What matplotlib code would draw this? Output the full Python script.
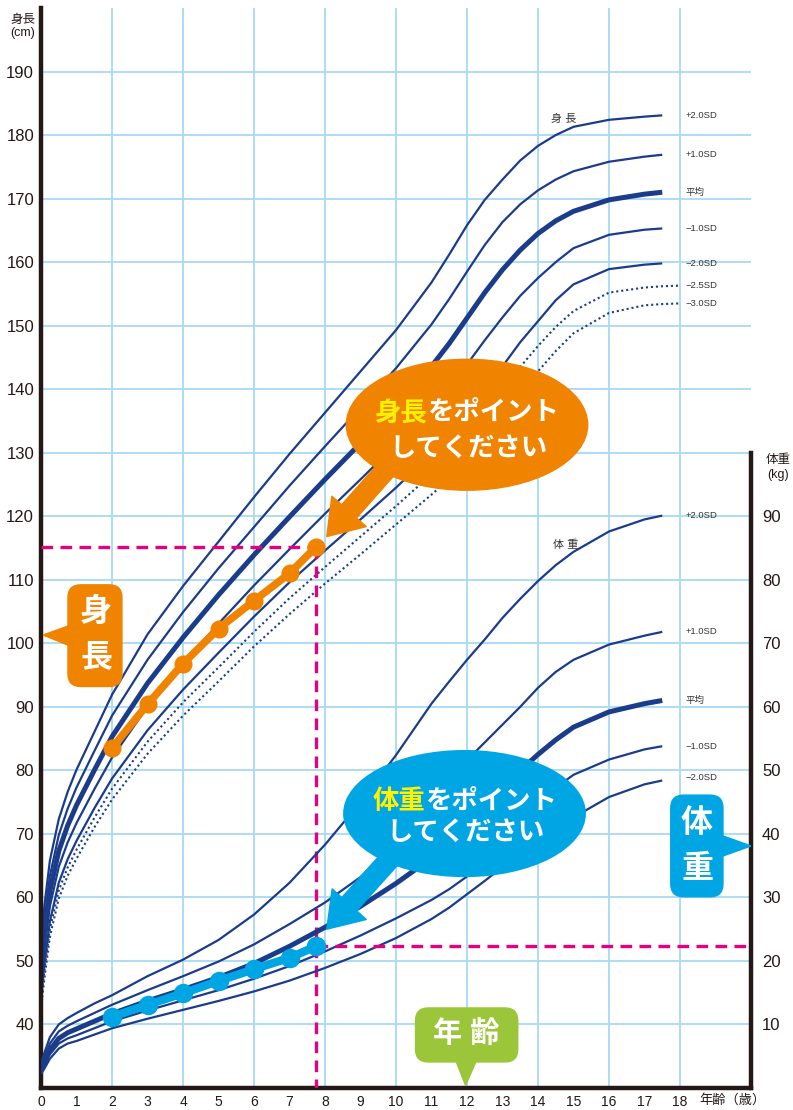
import matplotlib
matplotlib.use("Agg")
import matplotlib.pyplot as plt
from matplotlib.patches import Ellipse, FancyBboxPatch, Polygon

plt.rcParams['font.family'] = ['Liberation Sans', 'Noto Sans CJK JP', 'DejaVu Sans']

# --- standard curves (boys) ---
ages = [0, 0.1, 0.25, 0.5, 0.75, 1, 1.5, 2, 3, 4, 5, 6, 7, 8, 9, 10, 11, 11.5, 12, 12.5, 13, 13.5, 14, 14.5, 15, 16, 17, 17.5]
ages_dot = ages + [18]

h_p2 = [53.2, 58.9, 65.8, 72.3, 76.6, 80.1, 86.0, 91.9, 101.4, 109.0, 116.0, 123.0, 129.8, 136.3, 142.8, 149.3, 156.8, 161.2, 165.8, 169.8, 173.0, 176.0, 178.3, 180.0, 181.3, 182.4, 182.9, 183.1]
h_p1 = [51.1, 56.6, 63.4, 69.8, 73.95, 77.3, 83.0, 88.6, 97.4, 104.9, 111.8, 118.3, 124.8, 131.0, 137.1, 143.3, 150.2, 154.2, 158.5, 162.7, 166.3, 169.1, 171.3, 173.0, 174.3, 175.8, 176.6, 176.9]
h_mean = [49.0, 54.3, 61.0, 67.3, 71.3, 74.5, 80.0, 85.3, 93.7, 100.9, 107.6, 113.9, 119.9, 125.8, 131.5, 137.3, 143.6, 147.2, 151.2, 155.2, 158.8, 161.9, 164.5, 166.5, 168.0, 169.8, 170.7, 171.0]
h_m1 = [46.9, 52.0, 58.6, 64.8, 68.65, 71.7, 77.0, 82.0, 90.0, 96.8, 103.1, 109.1, 114.8, 120.4, 125.8, 131.3, 137.0, 140.2, 143.9, 147.7, 151.3, 154.7, 157.5, 160.0, 162.2, 164.3, 165.1, 165.3]
h_m2 = [44.8, 49.7, 56.2, 62.3, 66.0, 68.9, 74.0, 78.7, 86.3, 92.7, 98.5, 104.2, 109.6, 114.6, 119.5, 124.5, 129.8, 132.7, 136.1, 139.8, 143.6, 147.4, 150.7, 154.0, 156.5, 158.9, 159.6, 159.8]
h_m25 = [43.8, 48.6, 55.0, 61.1, 64.7, 67.5, 72.5, 77.1, 84.5, 90.7, 96.2, 101.8, 107.1, 112.0, 116.8, 121.6, 126.6, 129.3, 132.6, 136.1, 139.8, 143.5, 146.8, 149.8, 152.3, 155.2, 156.0, 156.2, 156.3]
h_m3 = [42.7, 47.4, 53.8, 59.8, 63.4, 66.1, 71.0, 75.4, 82.6, 88.6, 94.0, 99.5, 104.6, 109.4, 114.0, 118.7, 123.4, 125.9, 129.1, 132.5, 136.1, 139.8, 142.8, 146.0, 148.8, 152.0, 153.2, 153.4, 153.5]

w_p2 = [3.9, 5.6, 8.0, 10.0, 11.0, 11.8, 13.3, 14.6, 17.6, 20.2, 23.3, 27.3, 32.3, 38.3, 45.0, 52.4, 60.5, 64.0, 67.4, 70.6, 74.0, 77.0, 79.8, 82.3, 84.4, 87.6, 89.5, 90.1]
w_p1 = [3.45, 4.9, 7.0, 8.9, 9.8, 10.5, 11.8, 13.1, 15.4, 17.6, 19.9, 22.6, 25.8, 29.2, 33.2, 38.6, 45.0, 48.3, 51.6, 54.4, 57.2, 60.0, 63.0, 65.5, 67.4, 69.8, 71.2, 71.8]
w_mean = [3.0, 4.2, 6.0, 7.8, 8.7, 9.3, 10.5, 11.7, 13.7, 15.5, 17.4, 19.6, 22.3, 25.3, 28.6, 32.2, 36.2, 38.5, 41.0, 44.0, 47.2, 50.0, 52.5, 54.8, 56.8, 59.2, 60.5, 61.0]
w_m1 = [2.6, 3.6, 5.3, 7.0, 7.8, 8.3, 9.4, 10.5, 12.2, 13.8, 15.4, 17.2, 19.2, 21.5, 24.0, 26.7, 29.6, 31.3, 33.3, 35.8, 38.5, 41.5, 44.5, 47.3, 49.3, 51.7, 53.3, 53.8]
w_m2 = [2.2, 3.1, 4.6, 6.2, 7.0, 7.4, 8.4, 9.4, 10.9, 12.3, 13.7, 15.2, 16.9, 18.9, 21.1, 23.6, 26.6, 28.4, 30.5, 32.6, 34.8, 37.0, 39.0, 40.6, 42.6, 45.8, 47.8, 48.4]

# --- the child's measurements ---
child_age = [2, 3, 4, 5, 6, 7, 7.75]
child_height = [83.5, 90.4, 96.8, 102.3, 106.7, 111.0, 115.2]
child_weight = [11.2, 13.1, 14.9, 16.85, 18.7, 20.5, 22.3]

NAVY = '#1a3c8a'
GRID = '#a8daf3'
ORANGE = '#f08300'
BLUE = '#00a5e3'
GREEN = '#9cc63a'
PINK = '#e4007f'
YELLOW = '#fff100'
INK = '#231815'

fig = plt.figure(figsize=(7.93, 11.10), dpi=100)
ax = fig.add_axes([41/793, 22/1110, 710/793, 1080/1110])
ax.set_xlim(0, 20)
ax.set_ylim(30, 200)

for x in range(2, 20, 2):
    ax.axvline(x, color=GRID, lw=1.3, zorder=0)
for y in range(40, 200, 10):
    ax.axhline(y, color=GRID, lw=1.3, zorder=0)

ax.set_xticks(range(0, 19))
ax.set_yticks(range(40, 200, 10))
ax.tick_params(axis='both', length=0, colors=INK)
ax.tick_params(axis='x', labelsize=10, pad=5)
ax.tick_params(axis='y', labelsize=12, pad=5)
for s in ['top', 'right']:
    ax.spines[s].set_visible(False)
for s in ['left', 'bottom']:
    ax.spines[s].set_linewidth(3.2)
    ax.spines[s].set_color(INK)

ax2 = ax.twinx()
ax2.set_ylim(0, 170)
ax2.set_yticks(range(10, 100, 10))
ax2.tick_params(axis='y', length=0, labelsize=12, pad=8, colors=INK)
for s in ['top', 'left', 'bottom']:
    ax2.spines[s].set_visible(False)
ax2.spines['right'].set_linewidth(3.2)
ax2.spines['right'].set_color(INK)
ax2.spines['right'].set_bounds(0, 100)

# height curves
for vals, lw in [(h_p2, 1.6), (h_p1, 1.6), (h_mean, 3.6), (h_m1, 1.6), (h_m2, 1.6)]:
    ax.plot(ages, vals, color=NAVY, lw=lw, solid_capstyle='butt', solid_joinstyle='round', zorder=2)
for vals in [h_m25, h_m3]:
    ax.plot(ages_dot, vals, color=NAVY, lw=1.5, ls=(0, (1, 1.4)), zorder=2)

# weight curves
for vals, lw in [(w_p2, 1.6), (w_p1, 1.6), (w_mean, 3.6), (w_m1, 1.6), (w_m2, 1.6)]:
    ax2.plot(ages, vals, color=NAVY, lw=lw, solid_capstyle='butt', solid_joinstyle='round', zorder=2)

# curve labels
lab_x = 18.16
h_labels = ['+2.0SD', '+1.0SD', '平均', '−1.0SD', '−2.0SD', '−2.5SD', '−3.0SD']
h_ends = [h_p2[-1], h_p1[-1], h_mean[-1], h_m1[-1], h_m2[-1], h_m25[-1], h_m3[-1]]
for t, y in zip(h_labels, h_ends):
    ax.text(lab_x, y, t, fontsize=6.8, color='#333333', va='center', ha='left')
w_labels = ['+2.0SD', '+1.0SD', '平均', '−1.0SD', '−2.0SD']
w_ends = [w_p2[-1], w_p1[-1], w_mean[-1], w_m1[-1], w_m2[-1] + 0.4]
for t, y in zip(w_labels, w_ends):
    ax2.text(lab_x, y, t, fontsize=6.8, color='#333333', va='center', ha='left')
ax.text(14.73, 182.6, '身 長', fontsize=8, color='#333333', ha='center', va='center')
ax2.text(14.78, 85.5, '体 重', fontsize=8, color='#333333', ha='center', va='center')

# guide lines
ax.plot([0, child_age[-1]], [child_height[-1]] * 2, color=PINK, lw=2.4, ls=(0, (3.5, 2.2)), zorder=3)
ax.plot([child_age[-1]] * 2, [child_height[-1], 30], color=PINK, lw=2.4, ls=(0, (3.5, 2.2)), zorder=3)
ax2.plot([child_age[-1], 20], [child_weight[-1]] * 2, color=PINK, lw=2.4, ls=(0, (3.5, 2.2)), zorder=3)

# child series
ax.plot(child_age, child_height, color=ORANGE, lw=5.5, marker='o', ms=12, zorder=4)
ax2.plot(child_age, child_weight, color=BLUE, lw=6, marker='o', ms=13, zorder=4)

# axis titles
fig.text(23/793, 1 - 20/1110, '身長', fontsize=9, ha='center', va='center', color=INK)
fig.text(23/793, 1 - 33/1110, '(cm)', fontsize=9, ha='center', va='center', color=INK)
fig.text(778/793, 1 - 460/1110, '体重', fontsize=9, ha='center', va='center', color=INK)
fig.text(778/793, 1 - 475/1110, '(kg)', fontsize=9, ha='center', va='center', color=INK)
fig.text(699/793, 1 - 1100/1110, '年齢（歳）', fontsize=9.5, ha='left', va='center', color=INK)

# call-outs (drawn on top axes, positioned in height-axis units)
T = ax.transData
ASPECT = (710 / 20) / (1080 / 170)

ax2.annotate('', xy=(8.05, 116.8), xytext=(10.3, 131.0), xycoords=T, textcoords=T,
             arrowprops=dict(arrowstyle='simple,head_length=1.1,head_width=1.5,tail_width=0.65',
                             mutation_scale=22, color=ORANGE, shrinkA=0, shrinkB=0), zorder=5)
ax2.add_patch(Ellipse((12.0, 134.4), 6.8, 20.6, transform=T, color=ORANGE, zorder=6))
ax2.text(10.88, 136.3, '身長', transform=T, fontsize=19, fontweight='bold', color=YELLOW,
         ha='right', va='center', zorder=7)
ax2.text(10.88, 136.3, 'をポイント', transform=T, fontsize=19, fontweight='bold', color='white',
         ha='left', va='center', zorder=7)
ax2.text(12.05, 130.6, 'してください', transform=T, fontsize=19, fontweight='bold', color='white',
         ha='center', va='center', zorder=7)

ax2.annotate('', xy=(8.05, 55.0), xytext=(10.3, 69.0), xycoords=T, textcoords=T,
             arrowprops=dict(arrowstyle='simple,head_length=1.1,head_width=1.5,tail_width=0.65',
                             mutation_scale=22, color=BLUE, shrinkA=0, shrinkB=0), zorder=5)
ax2.add_patch(Ellipse((11.93, 73.2), 6.8, 19.8, transform=T, color=BLUE, zorder=6))
ax2.text(10.83, 75.0, '体重', transform=T, fontsize=19, fontweight='bold', color=YELLOW,
         ha='right', va='center', zorder=7)
ax2.text(10.83, 75.0, 'をポイント', transform=T, fontsize=19, fontweight='bold', color='white',
         ha='left', va='center', zorder=7)
ax2.text(11.96, 70.1, 'してください', transform=T, fontsize=19, fontweight='bold', color='white',
         ha='center', va='center', zorder=7)


def tag(x0, y0, w, h, color, tri):
    ax2.add_patch(FancyBboxPatch((x0, y0), w, h, boxstyle='round,pad=0,rounding_size=0.36',
                                 mutation_aspect=ASPECT, transform=T, color=color, zorder=6))
    ax2.add_patch(Polygon(tri, closed=True, transform=T, color=color, zorder=6))


tag(0.76, 93.2, 1.52, 16.0, ORANGE, [(0.9, 103.0), (0.06, 101.3), (0.9, 99.4)])
ax2.text(1.55, 104.8, '身', transform=T, fontsize=23, fontweight='bold', color='white',
         ha='center', va='center', zorder=7)
ax2.text(1.55, 97.6, '長', transform=T, fontsize=23, fontweight='bold', color='white',
         ha='center', va='center', zorder=7)

tag(17.74, 60.1, 1.47, 16.0, BLUE, [(19.1, 69.9), (20.0, 68.1), (19.1, 66.3)])
ax2.text(18.48, 71.6, '体', transform=T, fontsize=23, fontweight='bold', color='white',
         ha='center', va='center', zorder=7)
ax2.text(18.48, 64.3, '重', transform=T, fontsize=23, fontweight='bold', color='white',
         ha='center', va='center', zorder=7)

tag(10.55, 34.1, 2.88, 8.5, GREEN, [(11.67, 34.5), (11.96, 30.4), (12.28, 34.5)])
ax2.text(11.99, 38.5, '年 齢', transform=T, fontsize=21, fontweight='bold', color='white',
         ha='center', va='center', zorder=7)

fig.savefig('out.png', dpi=100)
